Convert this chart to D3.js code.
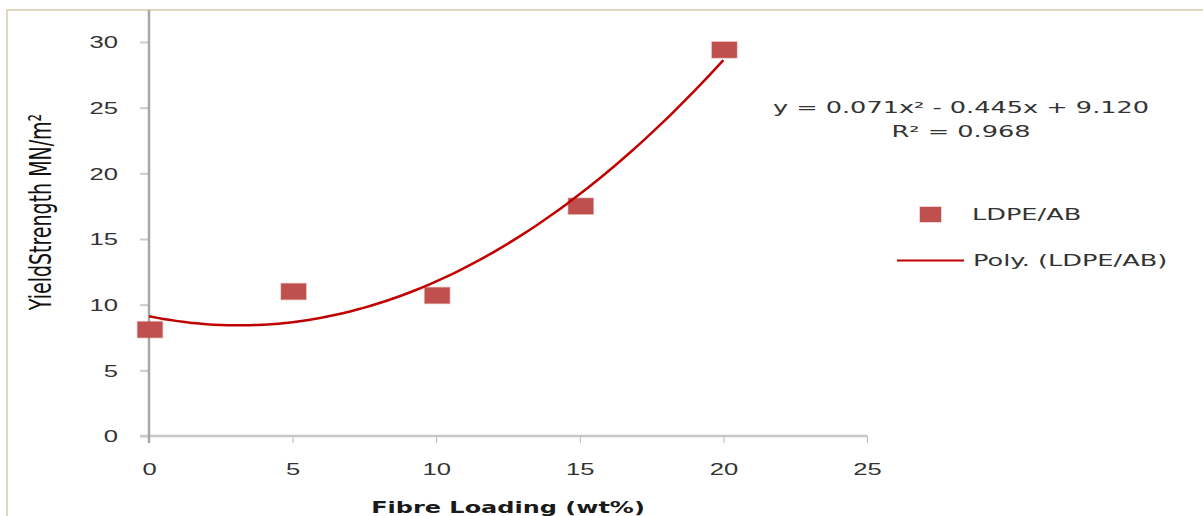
<!DOCTYPE html>
<html lang="en">
  <head>
    <meta charset="UTF-8" />
    <title>Yield Strength vs Fibre Loading</title>
    <style>
      body {
        margin: 0;
        background: #fff;
      }
      svg {
        display: block;
        font-family: 'DejaVu Sans', sans-serif;
      }
      .tick text {
        fill: #333;
      }
    </style>
  </head>
  <body>
    <div id="chart"></div>

    <script src="https://d3js.org/d3.v7.min.js"></script>
    <script>
      // data
      const loading = [0, 5, 10, 15, 20];
      const strength = [8.1, 11.0, 10.7, 17.5, 29.4];
      const xTicks = [0, 5, 10, 15, 20, 25];
      const yTicks = [0, 5, 10, 15, 20, 25, 30];
      const trendCoef = [0.071, -0.445, 9.12]; // x^2, x, const
      const trendSpan = [0, 20];
      const equationLines = ['y = 0.071x² - 0.445x + 9.120', 'R² = 0.968'];
      const legendLabels = ['LDPE/AB', 'Poly. (LDPE/AB)'];

      const W = 1203;
      const H = 516;
      const stretch = 1.6; // the picture is wide, text is stretched sideways

      const svg = d3
        .select('#chart')
        .append('svg')
        .attr('width', W)
        .attr('height', H);

      svg.append('rect').attr('width', W).attr('height', H).attr('fill', '#fff');

      // outer frame (only left and top show)
      svg
        .append('path')
        .attr('d', `M7,${H} V10 H${W}`)
        .attr('fill', 'none')
        .attr('stroke', '#ddd7bf')
        .attr('stroke-width', 2);

      const x = d3.scaleLinear().domain([0, 25]).range([149, 867]);
      const y = d3.scaleLinear().domain([0, 30]).range([436, 42]);

      // axes
      const xAxis = svg
        .append('g')
        .attr('transform', `translate(0, ${y(0)})`)
        .call(d3.axisBottom(x).tickValues(xTicks).tickSize(7).tickSizeOuter(0));

      xAxis.select('.domain').remove();
      xAxis
        .append('line')
        .attr('x1', x(0) - 9)
        .attr('x2', x(25))
        .attr('stroke', '#c8c8c8')
        .attr('stroke-width', 2.5);
      xAxis.selectAll('.tick line').attr('stroke', '#b5b5b5').attr('stroke-width', 1);
      xAxis
        .selectAll('.tick text')
        .attr('y', 0)
        .attr('dy', 0)
        .attr('transform', `translate(0, 39) scale(${stretch}, 1)`)
        .style('font-size', '16px');

      const yAxis = svg
        .append('g')
        .attr('transform', `translate(${x(0)}, 0)`)
        .call(d3.axisLeft(y).tickValues(yTicks).tickSize(9).tickSizeOuter(0));

      yAxis.select('.domain').remove();
      yAxis
        .append('line')
        .attr('y1', 10)
        .attr('y2', y(0) + 7)
        .attr('stroke', '#a8a8a8')
        .attr('stroke-width', 2.5);
      yAxis.selectAll('.tick line').attr('stroke', '#cccccc').attr('stroke-width', 2);
      yAxis
        .selectAll('.tick text')
        .attr('x', 0)
        .attr('dy', '0.36em')
        .attr('transform', `translate(-31, 0) scale(${stretch}, 1)`)
        .style('font-size', '16px');

      // axis titles
      svg
        .append('text')
        .attr('transform', `translate(508, 513) scale(${stretch}, 1)`)
        .attr('text-anchor', 'middle')
        .style('font-size', '15px')
        .style('font-weight', 'bold')
        .attr('fill', '#1a1a1a')
        .text('Fibre Loading (wt%)');

      svg
        .append('text')
        .attr('transform', `translate(40, 212) scale(${stretch}, 1) rotate(-90)`)
        .attr('text-anchor', 'middle')
        .attr('dy', '0.35em')
        .style('font-size', '19px')
        .attr('fill', '#111')
        .text('YieldStrength  MN/m²');

      // markers
      const markerW = 25;
      const markerH = 16;
      svg
        .append('g')
        .selectAll('rect')
        .data(loading.map((d, i) => ({ x: d, y: strength[i] })))
        .join('rect')
        .attr('x', (d) => x(d.x) - markerW / 2 + 1)
        .attr('y', (d) => y(d.y) - markerH / 2)
        .attr('width', markerW)
        .attr('height', markerH)
        .attr('fill', '#c0504d')
        .attr('stroke', 'rgba(192, 80, 77, 0.35)')
        .attr('stroke-width', 1.5);

      // polynomial trendline from the fitted equation shown on the chart
      const poly = (v) => trendCoef[0] * v * v + trendCoef[1] * v + trendCoef[2];
      const trendPts = d3.range(trendSpan[0], trendSpan[1] + 0.001, 0.25).map((v) => [v, poly(v)]);

      svg
        .append('path')
        .datum(trendPts)
        .attr('fill', 'none')
        .attr('stroke', '#c00000')
        .attr('stroke-width', 2.5)
        .attr(
          'd',
          d3
            .line()
            .x((d) => x(d[0]))
            .y((d) => y(d[1]))
        );

      // equation label
      svg
        .append('g')
        .selectAll('text')
        .data(equationLines)
        .join('text')
        .attr('transform', (d, i) => `translate(961, ${113 + i * 24}) scale(${stretch}, 1)`)
        .attr('text-anchor', 'middle')
        .style('font-size', '16px')
        .attr('fill', '#333')
        .text((d) => d);

      // legend
      const legend = svg.append('g');

      legend
        .append('rect')
        .attr('x', 920)
        .attr('y', 207)
        .attr('width', 21)
        .attr('height', 15)
        .attr('fill', '#c0504d')
        .attr('stroke', 'rgba(192, 80, 77, 0.35)')
        .attr('stroke-width', 1.5);

      legend
        .append('line')
        .attr('x1', 897)
        .attr('x2', 964)
        .attr('y1', 260.5)
        .attr('y2', 260.5)
        .attr('stroke', '#c00000')
        .attr('stroke-width', 2);

      legend
        .selectAll('text')
        .data(legendLabels)
        .join('text')
        .attr('transform', (d, i) => `translate(${972 + i}, ${220 + i * 46}) scale(${stretch}, 1)`)
        .style('font-size', '16px')
        .attr('fill', '#333')
        .text((d) => d);
    </script>
  </body>
</html>
